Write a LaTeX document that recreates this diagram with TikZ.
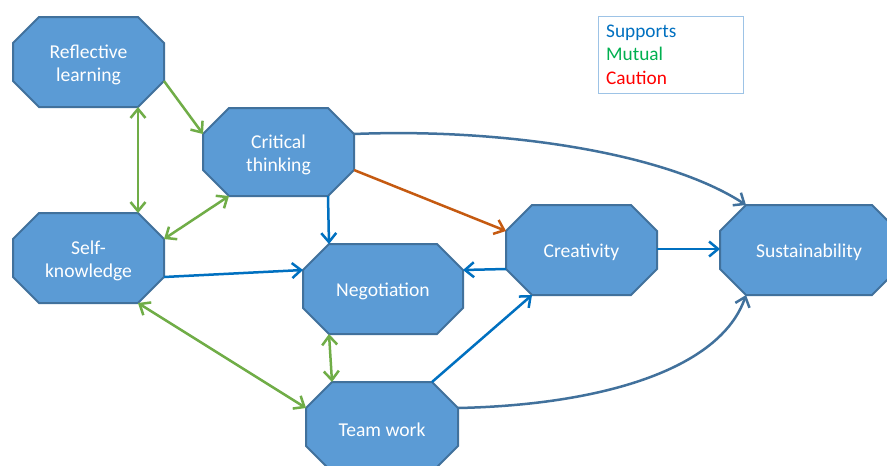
\documentclass[tikz,border=0pt]{standalone}
\usepackage{fontspec}
\setmainfont{Carlito}
\usetikzlibrary{arrows.meta,calc}

\definecolor{boxfill}{HTML}{5B9BD5}
\definecolor{boxline}{HTML}{41719C}
\definecolor{supportblue}{HTML}{0070C0}
\definecolor{mutualgreen}{HTML}{70AD47}
\definecolor{cautionorange}{HTML}{C55A11}
\definecolor{legendgreen}{HTML}{00B050}
\definecolor{legendred}{HTML}{FF0000}
\definecolor{legendframe}{HTML}{9DC3E6}

\tikzset{
  octagon/.style={fill=boxfill, draw=boxline, line width=2pt, line join=miter},
  octtext/.style={draw=none, inner sep=0pt, outer sep=0pt, align=center,
    text=white, font=\fontsize{19.6}{23}\selectfont},
  barb/.tip={Straight Barb[length=9pt,width=15pt]},
  conn/.style={line width=2.5pt, -barb},
  conn2/.style={line width=2.5pt, barb-barb},
  supports/.style={conn, supportblue},
  mutual/.style={conn, mutualgreen},
  mutual2/.style={conn2, mutualgreen},
  caution/.style={conn, cautionorange},
  longlink/.style={conn, boxline},
  legendtext/.style={anchor=base west, inner sep=0pt, font=\fontsize{19.3}{23}\selectfont},
}

% octagon box: name, left, top, right, bottom, label
\newcommand\octnode[6]{%
  \coordinate (#1-tl) at (#2+26,#3);
  \coordinate (#1-tr) at (#4-26,#3);
  \coordinate (#1-rt) at (#4,#3+26);
  \coordinate (#1-rb) at (#4,#5-26);
  \coordinate (#1-br) at (#4-26,#5);
  \coordinate (#1-bl) at (#2+26,#5);
  \coordinate (#1-lb) at (#2,#5-26);
  \coordinate (#1-lt) at (#2,#3+26);
  \coordinate (#1-r) at (#4,{(#3+#5)/2-1});
  \coordinate (#1-l) at (#2,{(#3+#5)/2-1});
  \path[octagon] (#1-tl) -- (#1-tr) -- (#1-rt) -- (#1-rb) -- (#1-br)
    -- (#1-bl) -- (#1-lb) -- (#1-lt) -- cycle;
  \node[octtext, minimum width={#4-#2}, minimum height={#5-#3}]
    (#1) at ({(#2+#4)/2},{(#3+#5)/2+2.5}) {#6};
}

\begin{document}
\begin{tikzpicture}[x=1pt, y=-1pt]
  \clip (0,0) rectangle (887,466);
  \fill[white] (0,0) rectangle (887,466);

  % boxes
  \octnode{rl}{13}{17}{164}{107}{Reflective\\learning}
  \octnode{ct}{203}{108}{354}{196}{Critical\\thinking}
  \octnode{sk}{13}{213}{164}{303}{Self-\\knowledge}
  \octnode{ng}{303}{244}{463}{334}{Negotiation}
  \octnode{cr}{506}{205}{657}{295}{Creativity}
  \octnode{su}{720}{205}{898}{295}{Sustainability}
  \octnode{tw}{306}{382}{458}{472}{Team work}

  % mutual links
  \draw[mutual]  (rl-rb) -- (ct-lt);
  \draw[mutual2] (rl-br) -- (sk-tr);
  \draw[mutual2] (sk-rt) -- (ct-bl);
  \draw[mutual2] (sk-br) -- (tw-lt);
  \draw[mutual2] (ng-bl) -- (tw-tl);

  % supporting links
  \draw[supports] (sk-rb) -- (ng-lt);
  \draw[supports] (ct-br) -- (ng-tl);
  \draw[supports] (cr-lb) -- (ng-rt);
  \draw[supports] (cr-r) -- (su-l);
  \draw[supports] (tw-tr) -- (cr-bl);

  % caution link
  \draw[caution] (ct-rb) -- (cr-lt);

  % long links to sustainability
  \draw[longlink] (ct-rt) .. controls (500,128) and (665,152) .. (su-tl);
  \draw[longlink] (tw-rt) .. controls (600,405) and (720,370) .. (su-bl);

  % legend
  \node[draw=legendframe, line width=1pt, minimum width=145pt, minimum height=77pt,
        inner sep=0pt] (legend) at (670.5,54.5) {};
  \node[legendtext, text=supportblue] (lsup) at (606,37) {Supports};
  \node[legendtext, text=legendgreen] (lmut) at (606,60.5) {Mutual};
  \node[legendtext, text=legendred]   (lcau) at (606,84) {Caution};
\end{tikzpicture}
\end{document}
